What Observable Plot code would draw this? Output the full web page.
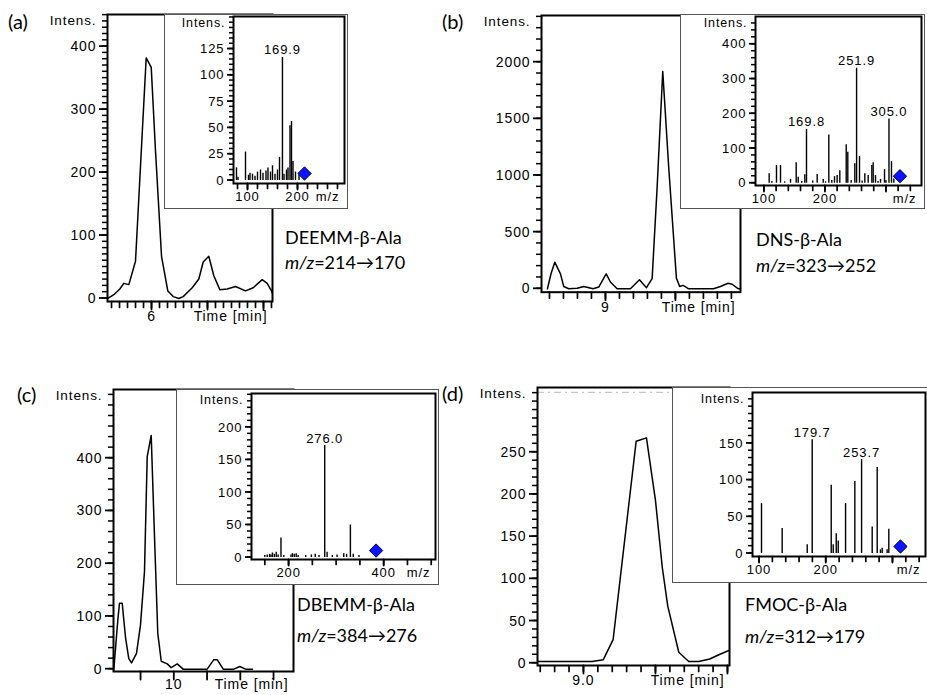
<!DOCTYPE html>
<html><head><meta charset="utf-8">
<script src="https://cdn.jsdelivr.net/npm/d3@7"></script>
<script src="https://cdn.jsdelivr.net/npm/@observablehq/plot@0.6"></script>
<style>
body{margin:0;background:#fff;}
#fig{position:relative;width:927px;height:695px;overflow:hidden;background:#fff;}
.inset{position:absolute;box-sizing:border-box;border:1.5px solid #555;background:#fff;}
</style></head><body><div id="fig"></div>
<script>
// ---------- data ----------
const panelLetters = ["(a)", "(b)", "(c)", "(d)"];
const compoundNames = ["DEEMM-β-Ala", "DNS-β-Ala", "DBEMM-β-Ala", "FMOC-β-Ala"];
const transitions = ["=214→170", "=323→252", "=384→276", "=312→179"];

// chromatograms (time in min, intensity)
const timeA = [5.22,5.327,5.434,5.505,5.595,5.714,5.834,5.905,5.995,6.071,6.179,6.291,6.388,6.488,6.566,6.727,6.845,6.923,7.023,7.113,7.22,7.352,7.5,7.679,7.816,7.977,8.066,8.138,8.16];
const intA  = [0,6,15,24,22,59,262,382,367,235,67,12,3,0,3,17,31,58,67,36,14,15,19,12,17,30,24,13,8];
const timeB = [8.171,8.224,8.276,8.357,8.404,8.476,8.596,8.69,8.824,8.904,9.01,9.071,9.167,9.357,9.486,9.586,9.667,9.739,9.819,9.904,10.014,10.061,10.11,10.19,10.543,10.643,10.753,10.81,10.9,10.93];
const intB  = [0,138,235,132,20,0,5,20,0,15,132,60,0,0,79,10,89,900,1918,1073,94,20,30,0,0,20,49,40,0,0];
const timeC = [9.098,9.158,9.183,9.224,9.274,9.323,9.364,9.439,9.499,9.559,9.6,9.66,9.71,9.759,9.811,9.901,9.961,10.051,10.141,10.502,10.602,10.653,10.743,10.902,10.992,11.078,11.183];
const intC  = [0,93,125,125,60,20,12,30,84,185,403,443,250,68,15,10,3,10,0,0,18,18,0,0,5,0,0];
const timeD = [8.683,9.06,9.137,9.206,9.366,9.4375,9.5,9.547,9.585,9.662,9.731,9.801,9.877,9.94,10.009];
const intD  = [2,2,4,28,263,267,193,114,68,13,2,2,5,10,15];

// MS/MS spectra (m/z, intensity)
const mzA = [78,81,96,102,105,110,115,120,126,131,137,141,146,150,155,160,164,169.9,173,178,181,185,188,191,196,203];
const abA = [12,3,27,5,7,6,4,8,10,7,9,12,8,14,6,10,22,117,6,10,12,52,56,18,8,5];
const mzB = [108.6,113,120.6,127.2,134,143.6,152.9,156.2,162,167,169.8,180,187.3,197.2,201,206.4,211.3,215.7,220,224.4,234.9,237.5,243,249,251.9,256.7,261,265.4,270.9,276.9,279.1,282.9,287,291.1,297.7,300,305.0,309.1,312.9];
const abB = [27,5,51,51,4,11,59,17,5,24,155,6,25,11,4,139,8,19,22,36,111,89,8,56,331,77,6,27,22,51,59,22,5,11,39,8,185,62,12];
const mzC = [150,155,160,163,166,170,174,178,184,190,205,208,212,216,220,236,248,256,264,276.0,281,292,302,316,322,330,336,348];
const abC = [3,4,5,4,7,5,8,4,30,3,4,6,5,6,3,3,4,5,3,172,8,3,4,6,5,50,5,3];
const mzD = [103.7,134.7,172.2,179.7,208.2,211.2,215.7,218.7,229.7,243.6,253.7,269.6,277.1,282,284.6,292,294.5];
const abD = [68,34,12,155,93,12,27,17,68,98,128,36,117,5,7,5,33];
const labelsA = [169.9], labelsB = [169.8, 251.9, 305.0], labelsC = [276.0], labelsD = [179.7, 253.7];
const precursors = [214, 323, 384, 312];

// tick labels
const yTicksA = [0,100,200,300,400], yTicksAi = [0,25,50,75,100,125];
const yTicksB = [0,500,1000,1500,2000], yTicksBi = [0,100,200,300,400];
const yTicksC = [0,100,200,300,400], yTicksCi = [0,50,100,150,200];
const yTicksD = [0,50,100,150,200,250], yTicksDi = [0,50,100,150];
const timeLabelA = 6, timeLabelB = 9, timeLabelC = 10, timeLabelD = "9.0";

// ---------- helpers ----------
const fig = document.getElementById("fig");
const FONT = "'Liberation Sans', Arial, Helvetica, sans-serif";
const rng = (a, b, s) => d3.range(a, b + 1e-9, s);

function place(svg, left, top) {
  svg.style.position = "absolute";
  svg.style.left = left + "px";
  svg.style.top = top + "px";
  svg.style.maxWidth = "none";
  svg.style.overflow = "visible";
  svg.style.background = "transparent";
  fig.appendChild(svg);
}
function box([L, T, R, B]) {
  const d = document.createElement("div");
  d.className = "inset";
  Object.assign(d.style, {left: L + "px", top: T + "px", width: (R - L) + "px", height: (B - T) + "px"});
  fig.appendChild(d);
}
// tick marks outside the frame, expressed in scale units
function axisMarks(o) {
  const fs = o.fs, x0 = o.x[0], y0 = o.y[0];
  const kx = (o.x[1] - o.x[0]) / o.fw, ky = (o.y[1] - o.y[0]) / o.fh;
  // y ticks: thin filled bars to the left of the frame
  const yt = (vals, len, w) => Plot.rect(vals, {
    x1: () => x0 - len * kx, x2: () => x0 + 1 * kx,
    y1: d => d - (w / 2) * ky, y2: d => d + (w / 2) * ky, fill: "#000", inset: 0});
  // x ticks: short vertical segments below the frame
  const xt = (vals, len, w) => Plot.line(vals.flatMap(v => [{a: v, b: y0, k: v}, {a: v, b: y0 - len * ky, k: v}]),
    {x: "a", y: "b", z: "k", stroke: "#000", strokeWidth: w});
  return [
    yt(o.yMinor, o.minor, 1.5),
    yt(o.yMajor, o.major, 1.8),
    xt(o.xMinor, o.minor + 1, 1.7),
    xt(o.xMajor, o.major, 1.8),
    Plot.axisY({ticks: o.yMajor, tickSize: o.major, tickPadding: 3, tickFormat: d => String(d), stroke: "none", fontSize: fs, label: null}),
    Plot.axisX({ticks: o.xMajor, tickSize: o.major, tickPadding: o.xPad ?? 2, tickFormat: o.xFmt, stroke: "none", fontSize: fs, label: null}),
    Plot.text([o.yTitle], {text: d => d, frameAnchor: "top-left", dx: -o.yTitleDx, dy: 6, textAnchor: "end", lineAnchor: "middle", fontSize: fs - 0.5}),
    Plot.text([o.xTitle], {text: d => d, frameAnchor: "bottom-right", dx: -5, dy: o.major + (o.xPad ?? 2), textAnchor: "end", lineAnchor: "top", fontSize: fs}),
    Plot.frame({stroke: "#000", strokeWidth: 2})
  ];
}
function mkPlot({frame: [L, T, R, B], m: [mt, mr, mb, ml], x, y, marks}) {
  const svg = Plot.plot({
    width: R - L + ml + mr, height: B - T + mt + mb,
    marginTop: mt, marginRight: mr, marginBottom: mb, marginLeft: ml,
    x: {domain: x, label: null}, y: {domain: y, label: null},
    style: {fontFamily: FONT, letterSpacing: "0.9px", color: "#000"},
    marks
  });
  place(svg, L - ml, T - mt);
}
function chrom(cfg) {
  const data = cfg.t.map((t, i) => ({t, v: cfg.v[i]}));
  const [L, T, R, B] = cfg.frame;
  mkPlot({frame: cfg.frame, m: [14, 6, 30, 66], x: cfg.x, y: cfg.y, marks: [
    ...(cfg.extra || []),
    Plot.line(data, {x: "t", y: "v", stroke: "#000", strokeWidth: 1.5}),
    ...axisMarks({fs: 14, major: 8, minor: 5, x: cfg.x, y: cfg.y, fw: R - L, fh: B - T, yMajor: cfg.yMajor, yMinor: cfg.yMinor,
      xMajor: cfg.xMajor, xMinor: cfg.xMinor, xFmt: cfg.xFmt, xPad: cfg.xPad, yTitle: "Intens.", yTitleDx: 11, xTitle: "Time [min]"})
  ]});
}
function spec(cfg) {
  box(cfg.outer);
  const [L, T, R, B] = cfg.frame;
  const data = cfg.mz.map((mz, i) => ({mz, h: cfg.h[i]}));
  const labs = cfg.labels.map(l => ({mz: l, h: data.find(d => d.mz === l).h}));
  mkPlot({frame: cfg.frame, m: [4, 4, 24, 62], x: cfg.x, y: cfg.y, marks: [
    Plot.ruleX(data, {x: "mz", y1: 0, y2: "h", stroke: "#000", strokeWidth: 1.4}),
    Plot.text(labs, {x: "mz", y: "h", text: d => d.mz.toFixed(1), dy: -3, lineAnchor: "bottom", fontSize: 13}),
    Plot.dot([cfg.prec], {x: d => d, y: () => 0, symbol: "diamond2", r: 6, fill: "#0a14ff", stroke: "#000050", strokeWidth: 1, dy: -7}),
    ...axisMarks({fs: 13, major: 6, minor: 4, x: cfg.x, y: cfg.y, fw: R - L, fh: B - T, yMajor: cfg.yMajor, yMinor: cfg.yMinor,
      xMajor: cfg.xMajor, xMinor: cfg.xMinor, xFmt: d => cfg.xLab.includes(d) ? String(d) : "",
      yTitle: "Intens.", yTitleDx: 8, xTitle: "m/z"})
  ]});
}

// ---------- panel (a) ----------
chrom({frame: [107, 14, 272, 301], t: timeA, v: intA, x: [5.214, 8.161], y: [-4.8, 451],
  yMajor: yTicksA, yMinor: rng(0, 450, 10), xMajor: [6, 7, 8], xMinor: rng(5.2857, 8.15, 1/7),
  xFmt: d => d === timeLabelA ? String(d) : ""});
spec({outer: [164, 14, 348, 209], frame: [233, 16, 344, 183], mz: mzA, h: abA, labels: labelsA, prec: precursors[0],
  x: [72, 294], y: [-2.85, 155.9], yMajor: yTicksAi, yMinor: rng(0, 155, 5),
  xMajor: [100, 200], xMinor: rng(80, 280, 20), xLab: [100, 200]});

// ---------- panel (b) ----------
chrom({frame: [541, 15, 740, 291.7], t: timeB, v: intB, x: [8.086, 10.93], y: [-30, 2412],
  yMajor: yTicksB, yMinor: rng(0, 2400, 100), xMajor: [9, 10], xMinor: rng(8.2, 10.9, 0.2),
  xFmt: d => d === timeLabelB ? String(d) : ""});
spec({outer: [680, 14, 925, 209], frame: [755, 16, 921, 185], mz: mzB, h: abB, labels: labelsB, prec: precursors[1],
  x: [86.2, 358.3], y: [-6.6, 480], yMajor: yTicksBi, yMinor: rng(0, 470, 20),
  xMajor: [100, 200, 300], xMinor: rng(100, 350, 20), xLab: [100, 200]});

// ---------- panel (c) ----------
chrom({frame: [113, 389, 293, 671], t: timeC, v: intC, x: [9.093, 11.8], y: [-4.4, 530.2],
  yMajor: yTicksC, yMinor: rng(0, 530, 20), xMajor: [9.5, 10, 10.5, 11, 11.5], xMinor: [], xPad: 0,
  xFmt: d => d === timeLabelC ? String(d) : ""});
spec({outer: [176, 389, 439, 585], frame: [251, 393, 435, 559], mz: mzC, h: abC, labels: labelsC, prec: precursors[2],
  x: [122, 509], y: [-3, 252], yMajor: yTicksCi, yMinor: rng(0, 250, 10),
  xMajor: [200, 400], xMinor: rng(150, 500, 50), xLab: [200, 400]});

// ---------- panel (d) ----------
chrom({frame: [537, 387, 729, 665], t: timeD, v: intD, x: [8.681, 10.014], y: [-2.7, 326.7],
  yMajor: yTicksD, yMinor: rng(0, 320, 10), xMajor: [9, 9.5, 10], xMinor: rng(8.7, 10.0, 0.1),
  xFmt: d => d === 9 ? timeLabelD : "",
  extra: [Plot.ruleY([321], {stroke: "#b8b8b8", strokeWidth: 1, strokeDasharray: "7 4 2 4"})]});
spec({outer: [672, 387, 940, 583], frame: [752, 392, 925, 556], mz: mzD, h: abD, labels: labelsD, prec: precursors[3],
  x: [90.2, 349.5], y: [-4.1, 219.3], yMajor: yTicksDi, yMinor: rng(0, 210, 10),
  xMajor: [100, 200, 300], xMinor: rng(100, 340, 20), xLab: [100, 200]});

// ---------- annotations ----------
const ov = d3.select(fig).append("svg")
  .attr("width", 927).attr("height", 695)
  .style("position", "absolute").style("left", "0px").style("top", "0px")
  .style("font-family", "Lato, 'Open Sans', sans-serif");
const letterPos = [[8, 29], [442, 29], [17, 402], [442, 401]];
panelLetters.forEach((s, i) => ov.append("text").attr("x", letterPos[i][0]).attr("y", letterPos[i][1])
  .attr("font-size", 20).text(s));
const namePos = [[285, 244, 269], [756, 246, 272], [297, 611, 642], [745, 611, 643]];
compoundNames.forEach((s, i) => {
  const [x, y1, y2] = namePos[i];
  ov.append("text").attr("x", x).attr("y", y1).attr("font-size", 18).text(s);
  const t = ov.append("text").attr("x", x).attr("y", y2).attr("font-size", 18);
  t.append("tspan").attr("font-style", "italic").text("m/z");
  t.append("tspan").text(transitions[i]);
});
</script></body></html>
